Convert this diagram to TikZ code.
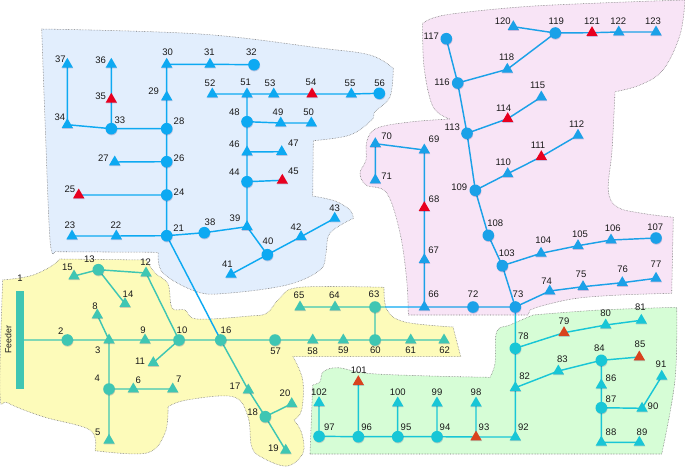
\documentclass[tikz,border=0pt]{standalone}
\usepackage{fontspec}
\setmainfont{Liberation Sans}
\usetikzlibrary{shapes.geometric,shadows}
\pgfdeclarelayer{regions}
\pgfdeclarelayer{lines}
\pgfsetlayers{regions,lines,main}
\definecolor{cTeal}{HTML}{3FC6B3}
\definecolor{cBlue}{HTML}{0DA9F2}
\definecolor{cPink}{HTML}{1BA1E8}
\definecolor{cCyan}{HTML}{18C6D6}
\definecolor{cRed}{HTML}{E8001F}
\definecolor{cRedB}{HTML}{D9431E}
\definecolor{zYellow}{HTML}{FDFBBA}
\definecolor{zBlue}{HTML}{E2EEFD}
\definecolor{zPink}{HTML}{F8E4F6}
\definecolor{zGreen}{HTML}{D6FDD6}
\definecolor{cLab}{HTML}{1A1A1A}
\tikzset{
  x=1pt,y=-1pt,
  shade/.style={drop shadow={shadow xshift=0.4pt,shadow yshift=-0.9pt,opacity=.18,fill=black!60!blue}},
  bus/.style={circle,inner sep=0pt,minimum size=11.6pt,shade},
  tri/.style={regular polygon,regular polygon sides=3,inner sep=0pt,minimum size=13pt,yshift=-1pt,shade},
  lab/.style={inner sep=0pt,text=cLab,font=\fontsize{9.5}{10}\selectfont},
  zone/.style={draw=black!55,densely dotted,line width=.55pt},
  wire/.style={line width=1.45pt},
  smo/.style={smooth,tension=.6}
}
\newcommand\placeN[2]{\foreach \n/\x/\y/\lx/\ly in {#2}{%
  \node[#1] (n\n) at (\x,\y) {};
  \node[lab] (l\n) at (\lx,\ly) {\n};}}
\newcommand\wireChain[2]{\draw[wire,#1] #2;}
\begin{document}
\begin{tikzpicture}
\useasboundingbox (0,0) rectangle (685,466);
% regions
\begin{pgfonlayer}{regions}
\fill[white] (0,0) rectangle (685,466);
\path[zone,fill=zPink] (422.7,23.3) -- plot[smo] coordinates {(422.7,23.3) (445,15) (520,7) (600,3) (685,0)}
  -- plot[smo] coordinates {(685,0) (680,35) (663,70) (640,85) (615,91.7)}
  -- plot[smo] coordinates {(615,91.7) (612,150) (608.3,190) (616.7,206.7) (640,213) (673.3,217.3)}
  -- (671.7,293.3) -- plot[smo] coordinates {(671.7,293.3) (620,295) (576.7,298.3) (545,305) (530,310)} -- (528,315) -- (408.3,315)
  -- plot[smo] coordinates {(408.3,315) (406.7,280) (400,233) (386.7,193) (366,185) (360,173) (366,160) (366.7,141.7) (376.7,128.3) (410,122) (450,119)}
  -- plot[smo] coordinates {(450,119) (433,106.7) (424,66.7) (422.7,23.3)} -- cycle;
\path[zone,fill=zGreen] (310,454) -- (312.7,385) -- plot[smo] coordinates {(312.7,385) (320,381.7) (323.3,371.7) (338.3,367.7) (366.7,373.3) (430,376) (490,377.3)}
  -- plot[smo] coordinates {(490,377.3) (495,363.3) (496.7,331.7) (510,325) (533,315)}
  -- plot[smo] coordinates {(533,315) (600,310) (676.7,307.3)}
  -- plot[smo] coordinates {(676.7,307.3) (675,380) (661.7,454)} -- cycle;
\path[zone,fill=zBlue] (41.7,29) -- plot[smo] coordinates {(41.7,29) (200,34) (320,48) (370,55) (393.3,68.3)}
  -- plot[smo] coordinates {(393.3,68.3) (390,96.7) (375,111.7) (371.7,120) (350,135) (313.3,140.7)}
  -- (312.7,196) -- plot[smo] coordinates {(312.7,196) (335,201) (350,210) (353.3,218.3)}
  -- plot[smo] coordinates {(353.3,218.3) (330,233) (326,253) (320,270) (286.7,285) (226.7,293.3) (196.7,291.7) (163,273) (158.3,252.3)}
  -- (55,251.7) -- plot[smo] coordinates {(55,251.7) (50,240) (45,120) (41.7,29)} -- cycle;
\path[zone,fill=zYellow] (2.7,280) -- plot[smo] coordinates {(2.7,280) (30,276) (50,267) (60,259)} -- (146,260)
  -- plot[smo] coordinates {(146,260) (155,273) (168,284) (172,308) (185,310) (197,319) (250,316) (267,313) (280,298) (300,287.3) (384,287.3)}
  -- plot[smo] coordinates {(384,287.3) (387,310) (405,322) (453,327)}
  -- (460.7,356.7) -- (293,356.7)
  -- plot[smo] coordinates {(293,356.7) (302.7,380) (301.7,410) (294,420)}
  -- plot[smo] coordinates {(294,420) (301.7,433) (303,453) (287,466) (263,458) (251.7,446.7) (248,416.7) (233,396.7) (186.7,400) (168,406.7)}
  -- plot[smo] coordinates {(168,406.7) (165,433) (146.7,453) (95,450.7)}
  -- plot[smo] coordinates {(95,450.7) (90,430) (43,416.7) (8,403) (0,393) (2.7,280)} -- cycle;
\end{pgfonlayer}
% feeder bar
\node[draw=none,fill=cTeal,minimum width=7.4pt,minimum height=98.6pt,inner sep=0pt] (feeder) at (20,340) {};
\node[lab,rotate=90,font=\fontsize{8.8}{10}\selectfont] (lf) at (8.3,339.5) {Feeder};
\node[lab] (l1) at (20,278.3) {1};
% yellow zone
\placeN{bus,fill=cTeal}{2/67.3/340/60.7/330.7,4/109/389/97.3/378.7,10/179/340/182/330.7,13/98.3/269.7/89.3/259.3,16/220.7/340/226/330.7,18/265.3/416.7/252.7/412,57/275/340/275.7/351,60/375/340/375.3/350.7,63/375/307/374/294.3}
\placeN{tri,fill=cTeal}{3/109/339/97.7/350.7,5/109/439.3/97.7/432.7,6/133.3/388/138.3/380,7/172.7/388/178.7/379.3,8/97.3/314/95/306,9/145/339/143/330.7,11/153.3/361.7/140/361.7,12/146/272/145.7/261.7,14/125/302.7/128/294,15/74/275/67.3/267.3,17/248.3/389/235/386.7,19/285.7/449.3/273.3/448,20/291.7/402.7/285/393.3,58/312.7/339/312.7/351,59/343.3/339/343.3/350.7,61/410.7/339/410.7/350.7,62/444/339/444.7/350.7,64/335/306/334.3/295,65/300/306/299/295}
% blue zone
\placeN{bus,fill=cBlue}{21/166.7/235.7/178.7/228,24/166.7/195/179/191.7,26/166.7/161.7/179/158.3,28/166.7/128.7/179/121.7,32/254/64.7/251.3/52.3,33/111.3/128.7/120/120.7,38/204.3/232.7/210/222.7,40/267.3/254.7/268/241.7,44/247/181.7/234.3/172,48/247/121.7/234.3/112,56/379.3/93.3/379.7/83}
\placeN{tri,fill=cBlue}{22/116.3/235/116/225.3,23/72/235/70/225.3,27/114.7/161/103.3/158,29/166.7/96/153.7/91,30/166.7/63.3/167.7/52.3,31/210/63.3/209.3/52.3,34/67.3/123.7/60/117.3,36/111.3/63.3/100.7/60.3,37/67.3/63.3/60.3/59.3,39/247/225.7/235/218.3,41/231/273.3/227.3/264.7,42/301/235.7/296/227.3,43/334.7/217.3/334.7/208.3,46/247/151/234.3/144,47/281.7/150.7/293.3/143.7,49/280.7/122/278/112,50/311.3/122/308.7/112,51/247/93/245.7/82.7,52/212.3/93/210/83.3,53/273.7/93/270/83.3,55/351.3/93/350/83.7}
\placeN{tri,fill=cRed}{25/78.7/194/70/189,35/111.3/98.3/100.7/96.7,45/282.3/179.3/293.3/171.7,54/312/93/311/82}
% pink zone
\placeN{bus,fill=cPink}{72/473/307/473/294.3,73/515.3/307/518/294,103/502.3/265.7/506.7/253.7,107/656/238/655.3/227.3,108/488.3/235.3/495.3/223,109/475.3/190.3/459.3/187.3,113/467/133.3/452.3/127.3,116/457.7/83/442/82.7,117/446.3/38.7/431.3/36.7,119/555.3/33/556.3/21}
\placeN{tri,fill=cPink}{66/424.3/306/433.7/294.3,67/424.3/258.7/433.7/250.7,69/424.3/149/434/139.7,70/375.3/142.7/386.7/136,71/375.3/179/386.7/176,74/549.7/290/546.7/281,75/583/285.7/581/274,76/622.3/281.7/622.7/269.3,77/656/277.3/656/264,104/541/252.3/543.3/240.7,105/578/244.7/580/234,106/611/239/612.7/228.3,110/507.7/172.7/503.3/162.3,112/578/134.3/576.7/124,115/541.3/96/537.7/85.7,118/507.3/68.3/506.7/57.7,120/513.3/25.7/502.7/21,122/618.7/31/618.3/21,123/656/31/653/21}
\placeN{tri,fill=cRed}{68/424.3/206.7/434/199.3,111/541.3/155.7/538/145.3,114/507.7/117.7/503.7/108.3,121/592/31.7/592/21}
% green zone
\placeN{bus,fill=cCyan}{78/515.3/348.3/523.3/336.7,84/601.3/360.3/599.3/348,87/601.3/407.7/611/399.7,94/437/436.7/445/427.3,95/397.7/436.7/406/427.3,96/358.3/436.7/366.7/427.3,97/319/436.3/329.3/427.3}
\placeN{tri,fill=cCyan}{80/605.7/324/605.7/313,81/641.3/319.3/640.3/307.3,82/515.3/386.7/524.7/376,83/558.3/370/562.3/359.3,86/601.3/384/611/378,88/601.3/441.3/611/432,89/639.3/441.3/642/432,90/642/407.3/653/406.7,91/661.7/375.3/661/364.7,92/515.3/436/523.3/427.3,98/476/402/476/392.3,99/437/402/437/392.3,100/397.7/402/397.7/392.3,102/319/401.7/319/392.3}
\placeN{tri,fill=cRedB}{79/564/331.7/564/321.3,85/639.3/356/640/344.3,93/476/436/484/427.3,101/358.3/380.7/358.7/370.3}
% connectors
\begin{pgfonlayer}{lines}
\coordinate (edgeA) at (384.5,307);
\coordinate (edgeB) at (515.3,315);
\wireChain{cTeal}{(feeder.center) -- (n2.center) -- (n3.center) -- (n9.center) -- (n10.center) -- (n16.center) -- (n57.center) -- (n58.center) -- (n59.center) -- (n60.center) -- (n61.center) -- (n62.center)
 (n3.center) -- (n8.center) (n3.center) -- (n4.center) -- (n5.center) (n4.center) -- (n6.center) -- (n7.center)
 (n10.center) -- (n11.center) (n10.center) -- (n12.center) -- (n13.center) -- (n15.center) (n13.center) -- (n14.center)
 (n16.center) -- (n17.center) -- (n18.center) -- (n20.center) (n18.center) -- (n19.center)
 (n60.center) -- (n63.center) -- (n64.center) -- (n65.center) (n63.center) -- (edgeA)}
\wireChain{cBlue}{(n16.center) -- (n21.center) -- (n22.center) -- (n23.center)
 (n21.center) -- (n24.center) -- (n26.center) -- (n28.center) -- (n29.center) -- (n30.center) -- (n31.center) -- (n32.center)
 (n24.center) -- (n25.center) (n26.center) -- (n27.center) (n28.center) -- (n33.center) -- (n34.center) -- (n37.center)
 (n33.center) -- (n35.center) -- (n36.center)
 (n21.center) -- (n38.center) -- (n39.center) -- (n44.center) -- (n46.center) -- (n48.center) -- (n51.center)
 (n39.center) -- (n40.center) -- (n41.center) (n40.center) -- (n42.center) -- (n43.center)
 (n44.center) -- (n45.center) (n46.center) -- (n47.center) (n48.center) -- (n49.center) -- (n50.center)
 (n51.center) -- (n52.center) (n51.center) -- (n53.center) -- (n54.center) -- (n55.center) -- (n56.center)
 (edgeA) -- (n66.center)}
\wireChain{cPink}{(n66.center) -- (n67.center) -- (n68.center) -- (n69.center) -- (n70.center) -- (n71.center)
 (n66.center) -- (n72.center) -- (n73.center) -- (n103.center) -- (n108.center) -- (n109.center) -- (n113.center) -- (n116.center) -- (n117.center)
 (n103.center) -- (n104.center) -- (n105.center) -- (n106.center) -- (n107.center)
 (n73.center) -- (n74.center) -- (n75.center) -- (n76.center) -- (n77.center)
 (n109.center) -- (n110.center) -- (n111.center) -- (n112.center)
 (n113.center) -- (n114.center) -- (n115.center)
 (n116.center) -- (n118.center) -- (n119.center) -- (n120.center)
 (n119.center) -- (n121.center) -- (n122.center) -- (n123.center)
 (n73.center) -- (edgeB)}
\wireChain{cCyan}{(edgeB) -- (n78.center) -- (n82.center) -- (n92.center) -- (n93.center) -- (n94.center) -- (n95.center) -- (n96.center) -- (n97.center) -- (n102.center)
 (n78.center) -- (n79.center) -- (n80.center) -- (n81.center)
 (n82.center) -- (n83.center) -- (n84.center) -- (n85.center)
 (n84.center) -- (n86.center) -- (n87.center) -- (n88.center) -- (n89.center)
 (n87.center) -- (n90.center) -- (n91.center)
 (n93.center) -- (n98.center) (n94.center) -- (n99.center) (n95.center) -- (n100.center) (n96.center) -- (n101.center)}
\end{pgfonlayer}
\end{tikzpicture}
\end{document}
